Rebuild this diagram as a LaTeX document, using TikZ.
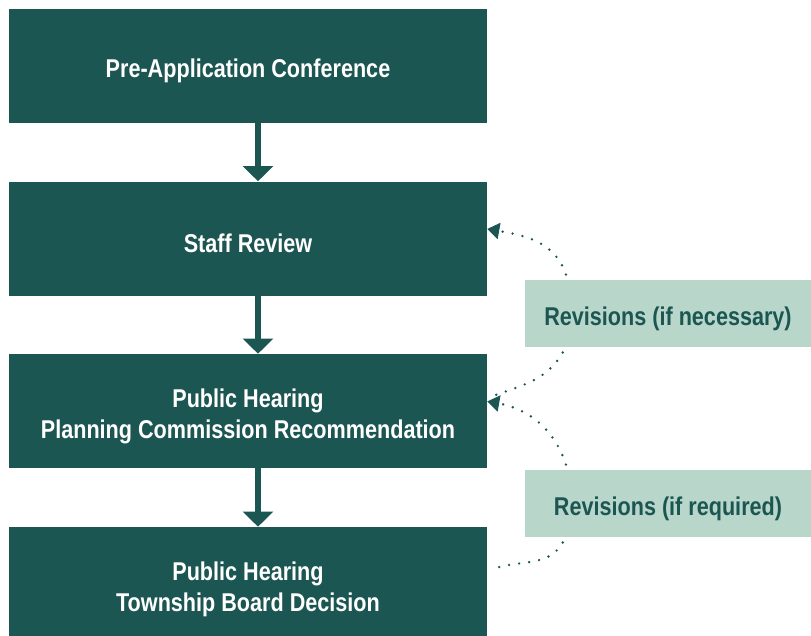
\documentclass[tikz,border=0pt]{standalone}
\usepackage{fontspec}
\setmainfont[FakeStretch=0.84]{Liberation Sans}
\usetikzlibrary{arrows.meta,positioning,calc}
\definecolor{pine}{RGB}{28,86,82}
\definecolor{sage}{RGB}{185,214,203}
\newcommand{\topgap}{\rule{0pt}{20.5pt}}

\begin{document}
\begin{tikzpicture}[
    stage/.style={rectangle, fill=pine, text=white, minimum width=11.95cm, minimum height=2.85cm, align=center, inner sep=0pt, font=\bfseries\fontsize{18.3}{22}\selectfont},
    rev/.style={rectangle, fill=sage, text=pine, minimum width=7.15cm, minimum height=1.675cm, inner sep=0pt, font=\bfseries\fontsize{18.3}{22}\selectfont},
    flow/.style={-{Triangle[length=0.38cm, width=0.75cm]}, line width=0.15cm, pine},
    back/.style={pine, line width=1.9pt, line cap=round, dash pattern=on 0pt off 7.2pt}
  ]
  \useasboundingbox (0,0) rectangle (20.275,-15.875);
  \node[stage] (pre) at (6.2,-1.65) {\topgap Pre-Application Conference};
  \node[stage] (staff) at (6.2,-5.9625) {\topgap Staff Review};
  \node[stage] (pc) at (6.2,-10.275) {\topgap Public Hearing\\Planning Commission Recommendation};
  \node[stage] (board) at (6.2,-14.6) {\topgap Public Hearing\\Township Board Decision};
  \node[rev] (revA) at (16.7,-7.8375) {\topgap Revisions (if necessary)};
  \node[rev] (revB) at (16.7,-12.5875) {\topgap Revisions (if required)};

  % main flow
  \draw[flow] ([xshift=0.25cm]pre.south) -- ([xshift=0.25cm]staff.north);
  \draw[flow] ([xshift=0.25cm]staff.south) -- ([xshift=0.25cm]pc.north);
  \draw[flow] ([xshift=0.25cm]pc.south) -- ([xshift=0.25cm]board.north);

  % revision loops
  \coordinate (a1) at ($(revA.north west)+(1.03,0.13)$);
  \coordinate (a2) at ($(revA.south west)+(0.95,-0.13)$);
  \coordinate (b1) at ($(revB.north west)+(1.03,0.13)$);
  \coordinate (b2) at ($(revB.south west)+(0.95,-0.13)$);
  \draw[back, -{Triangle[length=0.3cm, width=0.4cm]}] (a1) to[out=108, in=-10] ([yshift=0.24cm]staff.east);
  \draw[back] (a2) to[out=-120, in=20] ([xshift=0.12cm, yshift=0.37cm]pc.east);
  \draw[back, -{Triangle[length=0.3cm, width=0.4cm]}] (b1) to[out=108, in=-10] ([yshift=0.24cm]pc.east);
  \draw[back] (b2) to[out=-120, in=20] ([xshift=0.12cm, yshift=0.37cm]board.east);
\end{tikzpicture}
\end{document}
